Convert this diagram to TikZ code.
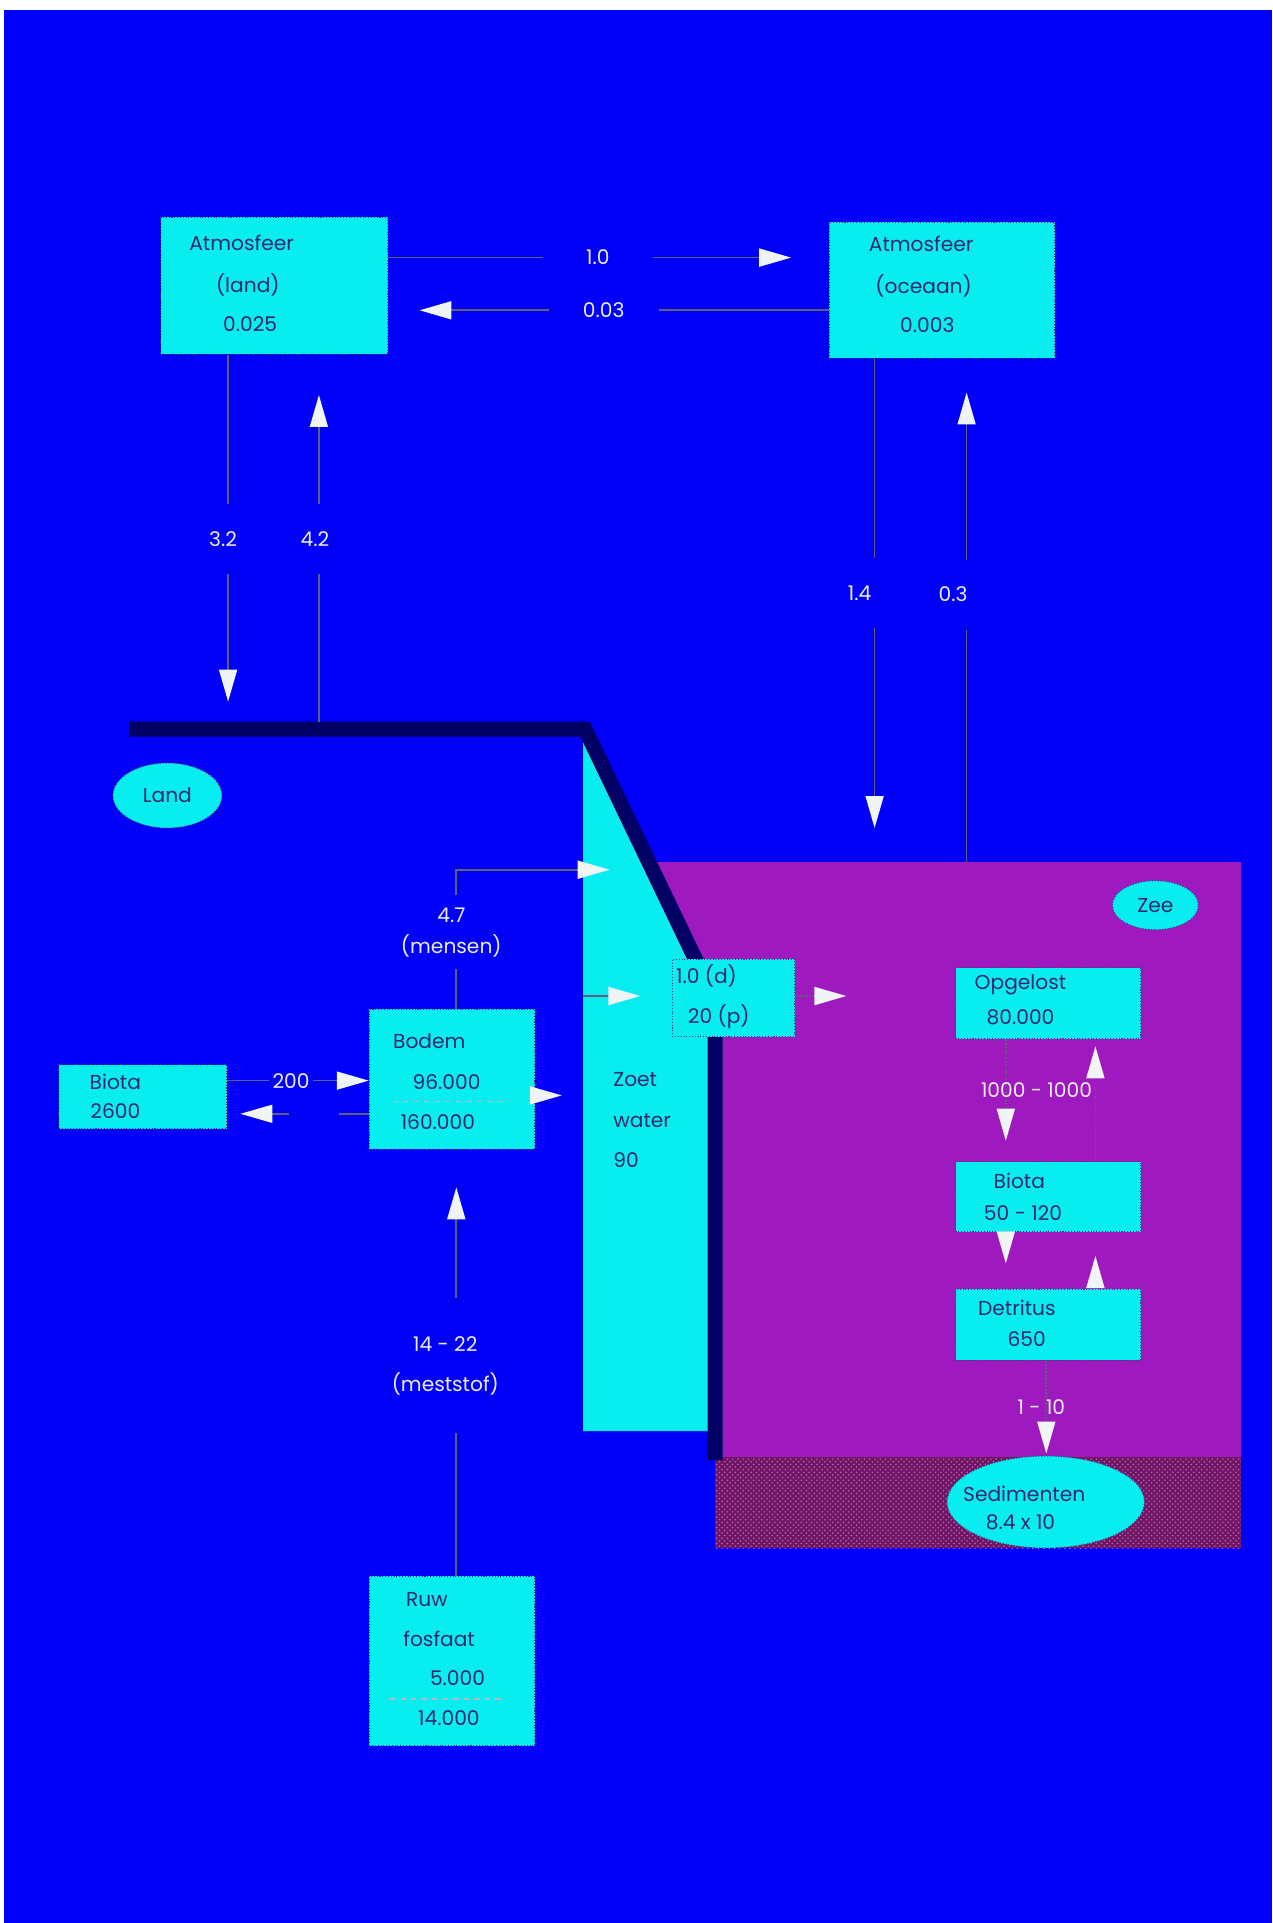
\documentclass[tikz,border=0pt]{standalone}
\usepackage{fontspec}
\setmainfont{Poppins}
\usetikzlibrary{arrows.meta,calc,shapes.geometric,patterns}

\definecolor{bgblue}{RGB}{0,0,248}
\definecolor{aqua}{RGB}{8,238,240}
\definecolor{seapurple}{RGB}{158,26,190}
\definecolor{sedcol}{RGB}{112,22,96}
\definecolor{barnavy}{RGB}{0,0,100}
\definecolor{ink}{RGB}{50,40,110}
\definecolor{boxedge}{RGB}{60,60,120}
\definecolor{linegray}{RGB}{95,95,120}
\definecolor{tipwhite}{RGB}{240,244,244}
\definecolor{lblwhite}{RGB}{235,235,240}

\newcommand{\boxfont}{\fontsize{11.5}{13.5}\selectfont}

\tikzset{
  box/.style={draw=boxedge,densely dotted,line width=0.6pt,fill=aqua,inner sep=0pt},
  blob/.style={box,ellipse},
  intext/.style={text=ink,font=\boxfont,inner sep=0pt},
  flow/.style={draw=linegray,line width=1pt,-{Triangle[length=0.64cm,width=0.36cm,color=tipwhite]}},
  dotflow/.style={flow,densely dotted},
  flowlbl/.style={fill=bgblue,text=lblwhite,font=\boxfont,inner sep=2pt,align=center},
  vlbl/.style={flowlbl,minimum height=1.4cm,minimum width=1.2cm},
  sealbl/.style={text=lblwhite,font=\boxfont,inner sep=0pt},
  divider/.style={draw=gray!55,dashed,line width=0.8pt}
}

\begin{document}
\begin{tikzpicture}[x=0.02cm,y=-0.02cm]
\useasboundingbox (0,0) rectangle (1272,1923);
% background
\fill[white] (0,0) rectangle (1272,1923);
\fill[bgblue] (4,10) rectangle (1272,1923);
% sea, sediment, fresh water and the coast line
\fill[seapurple] (650,862) -- (1241,862) -- (1241,1457) -- (715,1457) -- (715,1000) -- cycle;
\fill[sedcol] (715,1457) rectangle (1241,1548);
\fill[pattern=crosshatch dots,pattern color=seapurple!70!white] (715,1457) rectangle (1241,1548);
\fill[aqua] (583,729) -- (585,729) -- (715,1000) -- (715,1431) -- (583,1431) -- cycle;
\draw[barnavy,line width=0.3cm] (129,729) -- (585,729) -- (715,1000) -- (715,1460);

% reservoirs
\node[box,minimum width=4.54cm,minimum height=2.74cm] (atmland) at (274.2,285.8) {};
\node[box,minimum width=4.51cm,minimum height=2.72cm] (atmocean) at (942,290.1) {};
\node[box,minimum width=2.45cm,minimum height=1.55cm] (rivout) at (733.5,997.9) {};
\node[box,minimum width=3.31cm,minimum height=2.80cm] (bodem) at (452,1079.4) {};
\node[box,minimum width=3.36cm,minimum height=1.28cm] (biotaland) at (142.9,1096.6) {};
\node[box,minimum width=3.31cm,minimum height=3.39cm] (ruw) at (452,1660.9) {};
\node[box,minimum width=3.70cm,minimum height=1.42cm] (opgelost) at (1048.1,1003.4) {};
\node[box,minimum width=3.70cm,minimum height=1.40cm] (biotazee) at (1048.1,1196.6) {};
\node[box,minimum width=3.70cm,minimum height=1.42cm] (detritus) at (1048.1,1324.8) {};
\node[blob,minimum width=2.18cm,minimum height=1.30cm,text=ink,font=\boxfont] (land) at (167.4,795.5) {Land};
\node[blob,minimum width=1.72cm,minimum height=0.98cm,text=ink,font=\boxfont] (zee) at (1155.4,905.2) {Zee};
\node[blob,minimum width=3.95cm,minimum height=1.84cm] (sedimenten) at (1045.7,1502) {};

% texts in the reservoirs
\node[intext] at (241.6,242.9) {Atmosfeer};
\node[intext] at (247.8,284.6) {(land)};
\node[intext] at (250.2,323.8) {0.025};
\node[intext] at (921.2,244.1) {Atmosfeer};
\node[intext] at (923.6,285.8) {(oceaan)};
\node[intext] at (927.3,325) {0.003};
\node[intext] at (706.5,976.4) {1.0 (d)};
\node[intext] at (718.8,1016.9) {20 (p)};
\node[intext] at (429.3,1041.4) {Bodem};
\node[intext] at (446.5,1081.9) {96.000};
\node[intext] at (437.9,1122.3) {160.000};
\draw[divider] (392.5,1101.5) -- (502.9,1101.5);
\node[intext] at (115.3,1081.9) {Biota};
\node[intext] at (115.3,1111.3) {2600};
\node[intext] at (426.9,1599.5) {Ruw};
\node[intext] at (439.1,1638.7) {fosfaat};
\node[intext] at (457.5,1678) {5.000};
\draw[divider] (390,1698.8) -- (505,1698.8);
\node[intext] at (448.9,1718.5) {14.000};
\node[intext,anchor=west] at (613,1079.4) {Zoet};
\node[intext,anchor=west] at (613,1121.1) {water};
\node[intext,anchor=west] at (613,1160.4) {90};
\node[intext] at (1020.5,985) {Opgelost};
\node[intext] at (1020.5,1016.9) {80.000};
\node[intext] at (1019.3,1181.2) {Biota};
\node[intext] at (1023,1213.1) {50 - 120};
\node[intext] at (1016.9,1307.6) {Detritus};
\node[intext] at (1026.7,1339.4) {650};
\node[intext] at (1024.2,1494) {Sedimenten};
\node[intext] at (1020.5,1522.2) {8.4 x 10};

% free ends of the fluxes
\coordinate (t10) at (791.2,257.6);
\coordinate (t003) at (419.5,310.3);
\coordinate (t32) at (228.1,701.6);
\coordinate (b42) at (318.9,722);
\coordinate (t42) at (318.9,395);
\coordinate (t14) at (874.6,828);
\coordinate (b03) at (966.6,862.3);
\coordinate (t03) at (966.6,392.5);
\coordinate (m47) at (456.3,869.7);
\coordinate (t47) at (609.6,869.7);
\coordinate (zw) at (583,996);
\coordinate (trv) at (640.3,996);
\coordinate (tsea) at (846.4,996);
\coordinate (tbz) at (561.8,1095.4);
\coordinate (y200) at (0,1080.6);
\coordinate (tback) at (240.4,1113.8);
\coordinate (t1422) at (456.3,1187.3);
\coordinate (tob) at (1005.8,1140.7);
\coordinate (tbo) at (1095.4,1046.3);
\coordinate (tbd) at (1005.8,1263.4);
\coordinate (tdb) at (1095.4,1256);
\coordinate (tds) at (1046.3,1453.5);

% atmosphere
\draw[flow] (atmland.east |- t10) -- node[flowlbl,minimum width=2.2cm,pos=0.52] {1.0} (t10);
\draw[flow] (atmocean.west |- t003) -- node[flowlbl,minimum width=2.2cm,pos=0.55] {0.03} (t003);
\draw[flow] (atmland.south -| t32) -- node[vlbl,pos=0.53,xshift=-0.1cm] {3.2} (t32);
\draw[flow] (b42) -- node[vlbl,pos=0.56,xshift=-0.08cm] {4.2} (t42);
\draw[flow] (atmocean.south -| t14) -- node[vlbl,pos=0.5,xshift=-0.3cm] {1.4} (t14);
\draw[flow] (b03) -- node[vlbl,pos=0.57,xshift=-0.27cm] {0.3} (t03);

% land
\draw[flow] (bodem.north -| m47) -- node[flowlbl,minimum height=1.48cm,pos=0.55,xshift=-0.1cm] {4.7\\[4pt](mensen)} (m47) -- (t47);
\draw[flow] (zw) -- (trv);
\draw[dotflow] (rivout.east |- tsea) -- (tsea);
\draw[flow] (bodem.east |- tbz) -- (tbz);
\draw[flow] (biotaland.east |- y200) -- node[flowlbl,pos=0.45] {200} (bodem.west |- y200);
\draw[flow] (bodem.west |- tback) -- node[fill=bgblue,minimum width=1cm,minimum height=0.2cm,inner sep=0pt,pos=0.43] {} (tback);
\draw[flow] (ruw.north -| t1422) -- node[flowlbl,minimum height=2.7cm,pos=0.54,xshift=-0.22cm] {14 - 22\\[9pt](meststof)} (t1422);

% sea
\draw[dotflow] (opgelost.south -| tob) -- (tob);
\draw[dotflow] (biotazee.north -| tbo) -- (tbo);
\node[sealbl] (lbl1000) at (1036.5,1090.5) {1000 - 1000};
\draw[flow] (biotazee.south -| tbd) -- (tbd);
\draw[flow] (detritus.north -| tdb) -- (tdb);
\draw[dotflow] (detritus.south -| tds) -- (tds);
\node[sealbl] (lbl110) at (1041.4,1406.9) {1 - 10};
\end{tikzpicture}
\end{document}
